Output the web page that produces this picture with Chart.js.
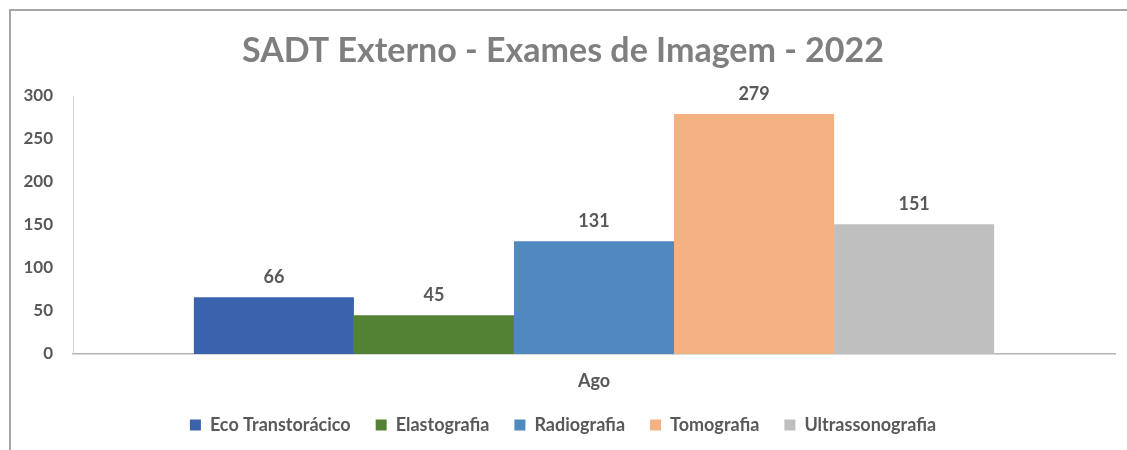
<!DOCTYPE html>
<html>
<head>
<meta charset="utf-8">
<script src="https://cdn.jsdelivr.net/npm/chart.js@4/dist/chart.umd.min.js"></script>
<style>
  html, body { margin: 0; padding: 0; background: #fff; }
  #box {
    position: absolute; left: 9px; top: 9px; right: 0; bottom: 0;
    border-left: 2px solid #a6a6a6; border-top: 2px solid #a6a6a6;
  }
</style>
</head>
<body>
<div id="box"><canvas id="myChart"></canvas></div>
<script>
var categories = ["Ago"];
var seriesNames = ["Eco Transtorácico", "Elastografia", "Radiografia", "Tomografia", "Ultrassonografia"];
var seriesValues = [[66], [45], [131], [279], [151]];
var barColors = ["#3a62ad", "#548235", "#4f89bf", "#f4b183", "#bfbfbf"];
var yTicks = [0, 50, 100, 150, 200, 250, 300];

var datasets = seriesNames.map(function (name, i) {
    return {
        label: name,
        data: seriesValues[i],
        backgroundColor: barColors[i],
        borderWidth: 0,
        categoryPercentage: 0.768,
        barPercentage: 1
    };
});

// draw the value above each bar
var valueLabels = {
    id: 'valueLabels',
    afterDatasetsDraw: function (chart) {
        var ctx = chart.ctx;
        ctx.save();
        ctx.font = 'bold 18px Lato';
        ctx.fillStyle = '#595959';
        ctx.textAlign = 'center';
        ctx.textBaseline = 'middle';
        chart.data.datasets.forEach(function (ds, i) {
            chart.getDatasetMeta(i).data.forEach(function (bar, j) {
                ctx.fillText(ds.data[j], bar.x, bar.y - 20);
            });
        });
        ctx.restore();
    }
};

new Chart(document.getElementById('myChart'), {
    type: 'bar',
    data: { labels: categories, datasets: datasets },
    plugins: [valueLabels],
    options: {
        responsive: true,
        maintainAspectRatio: false,
        animation: false,
        layout: { padding: { left: 0, right: 12, top: 0, bottom: 6 } },
        plugins: {
            title: {
                display: true,
                text: 'SADT Externo - Exames de Imagem - 2022',
                color: '#7f7f7f',
                font: { family: 'Lato', size: 34, weight: 'bold' },
                padding: { top: 19.5, bottom: 24.7 }
            },
            legend: {
                position: 'bottom',
                labels: {
                    color: '#595959',
                    font: { family: 'Lato', size: 18, weight: 'bold' },
                    boxWidth: 11,
                    boxHeight: 11,
                    padding: 25
                }
            },
            tooltip: { enabled: false }
        },
        scales: {
            x: {
                afterFit: function (scale) { scale.height = 37; },
                grid: { display: false, drawTicks: false },
                border: { display: true, color: '#b4b4b4', width: 1.5 },
                ticks: {
                    color: '#595959',
                    font: { family: 'Lato', size: 18, weight: 'bold', lineHeight: 1 },
                    padding: 18
                }
            },
            y: {
                min: 0,
                max: 300,
                afterFit: function (scale) { scale.width = 62; },
                afterBuildTicks: function (scale) {
                    scale.ticks = yTicks.map(function (v) { return { value: v }; });
                },
                grid: { display: false, drawTicks: false },
                border: { display: true, color: '#d0d0d0', width: 1 },
                ticks: {
                    color: '#595959',
                    font: { family: 'Lato', size: 17, weight: 'bold' },
                    padding: 20
                }
            }
        }
    }
});
</script>
</body>
</html>
